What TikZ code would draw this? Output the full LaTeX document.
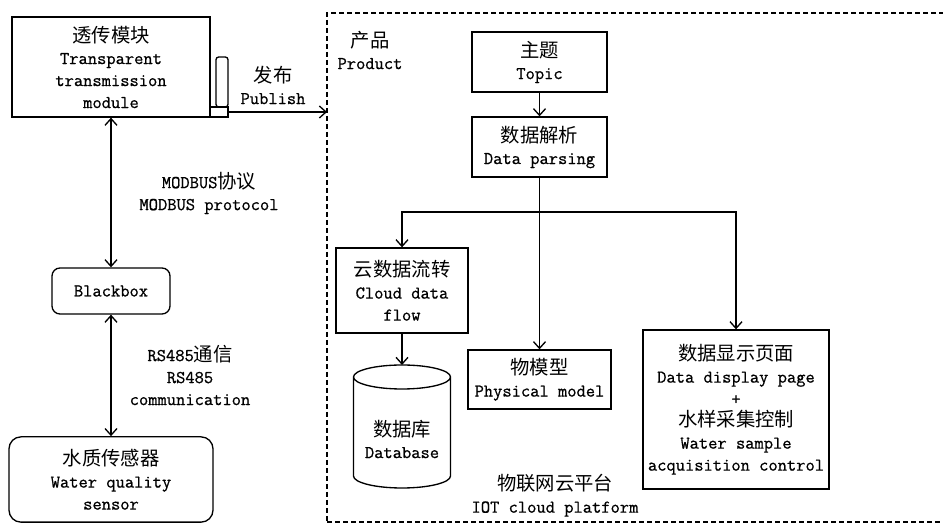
\documentclass[tikz,border=0pt]{standalone}
\usepackage{fontspec}
\setmainfont[FakeBold=0.8]{Latin Modern Mono}
\newfontfamily\cjk{Noto Sans CJK SC}
\usetikzlibrary{arrows.meta}
\tikzset{
  px/.style={x=0.75pt,y=-0.75pt},
  box/.style={draw,line width=1pt,align=center,inner sep=0pt,font=\fontsize{13.5}{16.5}\selectfont},
  rbox/.style={box,rounded corners=6pt},
  txt/.style={align=center,inner sep=0pt,font=\fontsize{13.5}{16.5}\selectfont},
  arr/.style={line width=1pt,-{Straight Barb[length=5pt,width=9pt]}},
  darr/.style={line width=1pt,{Straight Barb[length=5pt,width=9pt]}-{Straight Barb[length=5pt,width=9pt]}},
  frame/.style={line width=1pt,dash pattern=on 4pt off 2pt}
}
\newcommand{\zh}[1]{{\cjk\fontsize{14.5}{16.5}\selectfont #1}}
\begin{document}
\begin{tikzpicture}[px]
\useasboundingbox[fill=white] (0,0) rectangle (943,523);
% dashed frame of the cloud platform
\draw[frame] (960,13) -- (327,13) -- (327,540);
\draw[frame] (327,522) -- (960,522);

% left side
\node[box,minimum width=148.5pt,minimum height=75pt] (trans) at (111,67)
  {\zh{透传模块}\\Transparent\\transmission\\module};
\node[draw,line width=1pt,rounded corners=2pt,minimum width=9pt,minimum height=37.5pt,inner sep=0pt] (ant) at (222,82) {};
\node[draw,line width=1pt,fill=white,minimum width=13.5pt,minimum height=7.5pt,inner sep=0pt] (antbase) at (219,112) {};
\node[rbox,minimum width=88.5pt,minimum height=34.5pt] (bb) at (111,291) {Blackbox};
\node[rbox,rounded corners=9pt,minimum width=153pt,minimum height=64pt] (sensor) at (111,479.5)
  {\zh{水质传感器}\\Water quality\\sensor};

\node[txt] (pub) at (273,85) {\zh{发布}\\Publish};
\node[txt] (modbus) at (209,193) {MODBUS\zh{协议}\\MODBUS protocol};
\node[txt] (rs) at (190,375) {RS485\zh{通信}\\RS485\\communication};

\coordinate (entry) at (327,112);
\draw[arr] (antbase.east) -- (entry);
\draw[darr] (bb.north) -- (trans.south);
\draw[darr] (sensor.north) -- (bb.south);

% right side
\node[txt] (prod) at (370,50) {\zh{产品}\\Product};
\node[box,minimum width=101.25pt,minimum height=45pt] (topic) at (539.5,62) {\zh{主题}\\Topic};
\node[box,minimum width=101.25pt,minimum height=45pt] (parse) at (539.5,147) {\zh{数据解析}\\Data parsing};
\node[box,minimum width=99pt,minimum height=63.75pt] (cloud) at (402,290.5) {\zh{云数据流转}\\Cloud data\\flow};
\node[box,minimum width=107.25pt,minimum height=44.25pt] (phys) at (539.5,379.5) {\zh{物模型}\\Physical model};
\node[box,minimum width=139.5pt,minimum height=119.25pt] (disp) at (736,409.5)
  {\zh{数据显示页面}\\Data display page\\+\\\zh{水样采集控制}\\Water sample\\acquisition control};

% database cylinder
\draw[line width=1pt,fill=white] (353.5,377) -- (353.5,476)
  arc[start angle=180,end angle=360,x radius=36.375pt,y radius=9pt]
  -- (450.5,377)
  arc[start angle=0,end angle=360,x radius=36.375pt,y radius=9pt];
\coordinate (dbtop) at (402,365);
\node[txt] (db) at (402,439) {\zh{数据库}\\Database};

\node[txt] (iot) at (555,495.5) {\zh{物联网云平台}\\IOT cloud platform};

\coordinate (br) at (539.5,212);
\draw[arr] (topic.south) -- (parse.north);
\draw[arr] (parse.south) -- (phys.north);
\draw[arr] (br) -| (cloud.north);
\draw[arr] (br) -| (disp.north);
\draw[arr] (cloud.south) -- (dbtop);
\end{tikzpicture}
\end{document}
